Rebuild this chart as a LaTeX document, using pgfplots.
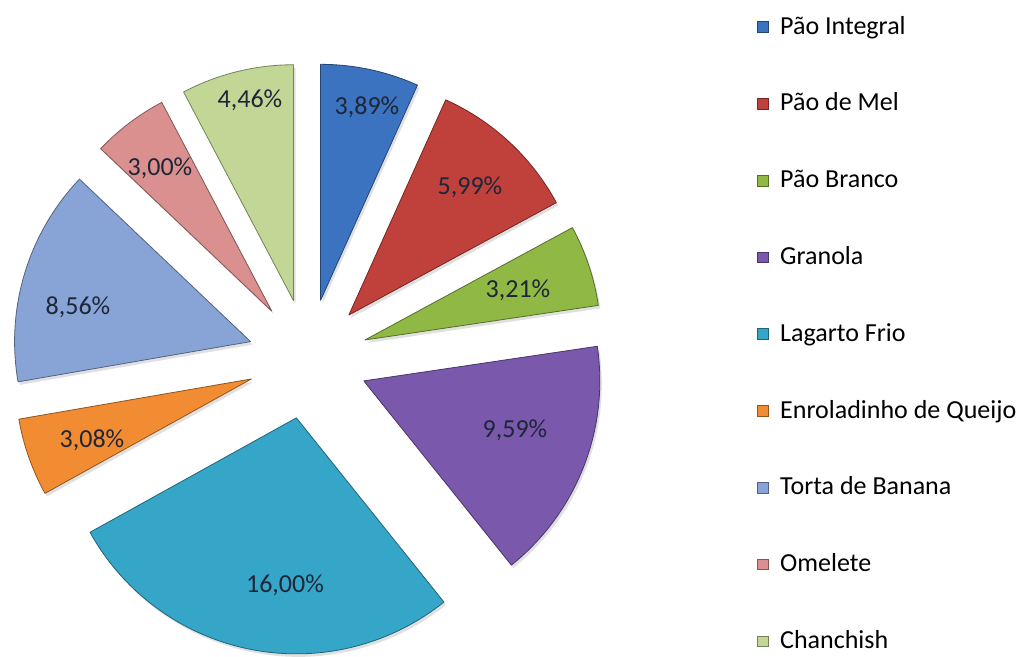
\documentclass[border=0pt]{standalone}
\usepackage{fontspec}
\setmainfont{Carlito}
\usepackage{pgfplots}
\usepackage{pgfplotstable}
\pgfplotsset{compat=1.18}

\definecolor{integral}{HTML}{3B73C0}
\definecolor{mel}{HTML}{C0413B}
\definecolor{branco}{HTML}{90B845}
\definecolor{granola}{HTML}{7A58AC}
\definecolor{lagarto}{HTML}{36A6C8}
\definecolor{enrol}{HTML}{F28C32}
\definecolor{torta}{HTML}{88A4D6}
\definecolor{omelete}{HTML}{D9908E}
\definecolor{chanch}{HTML}{C2D795}
\definecolor{labeltext}{HTML}{1E2638}

\newcommand\labelfont{\fontsize{19.5}{20}\selectfont}

% share of each item, slice colour, label position (axis units = pixels)
\pgfplotstableread[col sep=comma]{
name,value,colour,lx,ly
Pão Integral,3.89,integral,367,550
Pão de Mel,5.99,mel,470,470
Pão Branco,3.21,branco,518,367
Granola,9.59,granola,515,227
Lagarto Frio,16.00,lagarto,285,72
Enroladinho de Queijo,3.08,enrol,92,217
Torta de Banana,8.56,torta,78,350
Omelete,3.00,omelete,160,489
Chanchish,4.46,chanch,250,557
}\pietable

\pgfplotstablegetrowsof{\pietable}
\pgfmathtruncatemacro\nrows{\pgfplotsretval-1}
\def\total{0}
\pgfplotsforeachungrouped \i in {0,...,\nrows}{%
  \pgfplotstablegetelem{\i}{value}\of\pietable
  \pgfmathsetmacro\total{\total+\pgfplotsretval}}

\begin{document}
\begin{tikzpicture}
\useasboundingbox (0,0) rectangle (766.5pt,492.75pt);
\begin{axis}[
    width=766.5pt, height=492.75pt, scale only axis,
    xmin=0, xmax=1022, ymin=0, ymax=657,
    hide axis, clip=false,
    /pgf/number format/assume math mode=true,
    legend image code/.code={\draw[#1] (0pt,1.5pt) rectangle (8pt,9.5pt);},
    legend style={at={(axis cs:757,641.5)}, anchor=north west,
        draw=none, fill=none, inner sep=0pt, outer sep=0pt,
        font=\labelfont, row sep=39.6pt, column sep=9pt,
        cells={anchor=base west},
        nodes={inner sep=0pt, text height=14pt, text depth=4pt}},
]
\def\astart{90}
\pgfplotsforeachungrouped \i in {0,...,\nrows}{%
  \pgfplotstablegetelem{\i}{value}\of\pietable \let\v\pgfplotsretval
  \pgfplotstablegetelem{\i}{colour}\of\pietable \let\c\pgfplotsretval
  \pgfplotstablegetelem{\i}{name}\of\pietable \let\nm\pgfplotsretval
  \pgfplotstablegetelem{\i}{lx}\of\pietable \let\lx\pgfplotsretval
  \pgfplotstablegetelem{\i}{ly}\of\pietable \let\ly\pgfplotsretval
  \pgfmathsetmacro\aend{\astart-\v/\total*360}
  \pgfmathsetmacro\amid{(\astart+\aend)/2}
  \edef\temp{%
    \noexpand\fill[black, opacity=0.12]
      (axis cs:310,295) ++(\amid:45pt) -- ++(\astart:177pt)
      arc[start angle=\astart, end angle=\aend, radius=177pt] -- cycle;
    \noexpand\filldraw[fill=\c, draw=\c!60!black, line width=0.6pt, line join=round]
      (axis cs:308,298) ++(\amid:45pt) -- ++(\astart:177pt)
      arc[start angle=\astart, end angle=\aend, radius=177pt] -- cycle;
    \noexpand\node[font=\noexpand\labelfont, text=labeltext] at (axis cs:\lx,\ly)
      {\noexpand\pgfmathprintnumber[fixed,fixed zerofill,precision=2,use comma]{\v}\noexpand\%};
    \noexpand\addlegendimage{fill=\c, draw=\c!60!black}
    \noexpand\addlegendentry{\nm}}%
  \temp
  \let\astart\aend
}
\end{axis}
\end{tikzpicture}
\end{document}
